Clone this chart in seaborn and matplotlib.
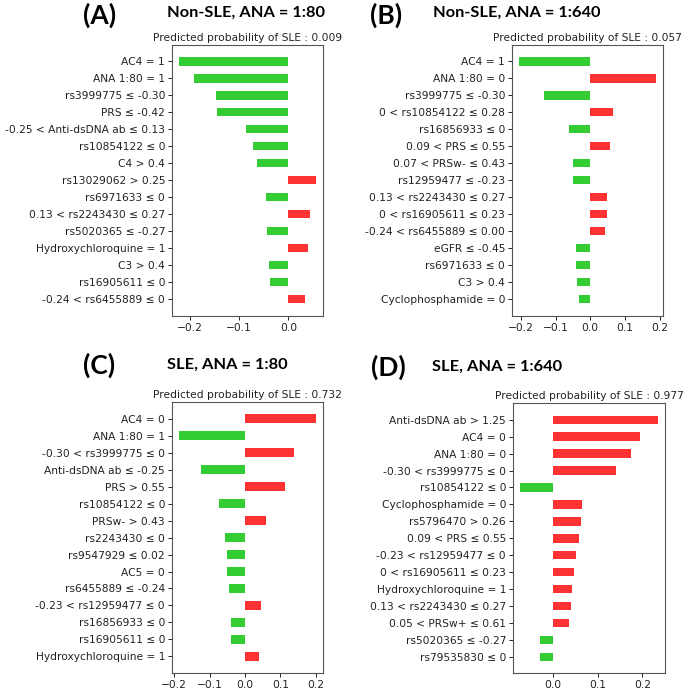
#Recreate the four LIME explanation panels (A-D)

# Load Packages=====================================================================================
import numpy as np
import pandas as pd
import seaborn as sns
import matplotlib.pyplot as plt


# Data==============================================================================================
a_labels = ['AC4 = 1', 'ANA 1:80 = 1', 'rs3999775 ≤ -0.30', 'PRS ≤ -0.42',
            '-0.25 < Anti-dsDNA ab ≤ 0.13', 'rs10854122 ≤ 0', 'C4 > 0.4', 'rs13029062 > 0.25',
            'rs6971633 ≤ 0', '0.13 < rs2243430 ≤ 0.27', 'rs5020365 ≤ -0.27',
            'Hydroxychloroquine = 1', 'C3 > 0.4', 'rs16905611 ≤ 0', '-0.24 < rs6455889 ≤ 0']
a_values = [-0.222, -0.191, -0.147, -0.144, -0.087, -0.071, -0.063, 0.056,
            -0.045, 0.044, -0.043, 0.040, -0.040, -0.038, 0.033]

b_labels = ['AC4 = 1', 'ANA 1:80 = 0', 'rs3999775 ≤ -0.30', '0 < rs10854122 ≤ 0.28',
            'rs16856933 ≤ 0', '0.09 < PRS ≤ 0.55', '0.07 < PRSw- ≤ 0.43', 'rs12959477 ≤ -0.23',
            '0.13 < rs2243430 ≤ 0.27', '0 < rs16905611 ≤ 0.23', '-0.24 < rs6455889 ≤ 0.00',
            'eGFR ≤ -0.45', 'rs6971633 ≤ 0', 'C3 > 0.4', 'Cyclophosphamide = 0']
b_values = [-0.206, 0.191, -0.132, 0.065, -0.062, 0.058, -0.050, -0.050,
            0.049, 0.047, 0.042, -0.040, -0.040, -0.037, -0.032]

c_labels = ['AC4 = 0', 'ANA 1:80 = 1', '-0.30 < rs3999775 ≤ 0', 'Anti-dsDNA ab ≤ -0.25',
            'PRS > 0.55', 'rs10854122 ≤ 0', 'PRSw- > 0.43', 'rs2243430 ≤ 0',
            'rs9547929 ≤ 0.02', 'AC5 = 0', 'rs6455889 ≤ -0.24', '-0.23 < rs12959477 ≤ 0',
            'rs16856933 ≤ 0', 'rs16905611 ≤ 0', 'Hydroxychloroquine = 1']
c_values = [0.201, -0.187, 0.139, -0.124, 0.114, -0.073, 0.060, -0.056,
            -0.051, -0.051, -0.046, 0.045, -0.040, -0.040, 0.039]

d_labels = ['Anti-dsDNA ab > 1.25', 'AC4 = 0', 'ANA 1:80 = 0', '-0.30 < rs3999775 ≤ 0',
            'rs10854122 ≤ 0', 'Cyclophosphamide = 0', 'rs5796470 > 0.26', '0.09 < PRS ≤ 0.55',
            '-0.23 < rs12959477 ≤ 0', '0 < rs16905611 ≤ 0.23', 'Hydroxychloroquine = 1',
            '0.13 < rs2243430 ≤ 0.27', '0.05 < PRSw+ ≤ 0.61', 'rs5020365 ≤ -0.27',
            'rs79535830 ≤ 0']
d_values = [0.235, 0.194, 0.174, 0.142, -0.073, 0.066, 0.063, 0.059,
            0.053, 0.048, 0.042, 0.041, 0.037, -0.028, -0.028]

panel_tags = ['(A)', '(B)', '(C)', '(D)']
panel_titles = ['Non-SLE, ANA = 1:80', 'Non-SLE, ANA = 1:640', 'SLE, ANA = 1:80', 'SLE, ANA = 1:640']
probs = ['0.009', '0.057', '0.732', '0.977']
xticks = [[-0.2, -0.1, 0.0], [-0.2, -0.1, 0.0, 0.1, 0.2],
          [-0.2, -0.1, 0.0, 0.1, 0.2], [0.0, 0.1, 0.2]]

GREEN = '#33cc33'
RED = '#ff3333'


# Plot helper=======================================================================================
def make_lime_bars(ax, labels, values, title, ticks):
  df = pd.DataFrame({'feature': labels, 'weight': values})
  df['sign'] = np.where(df['weight'] > 0, 'pos', 'neg')

  sns.barplot(data=df, x='weight', y='feature', hue='sign', orient='h',
              palette={'pos': RED, 'neg': GREEN}, dodge=False, width=0.5,
              saturation=1, legend=False, ax=ax, edgecolor='none')

  #matplotlib-like margins around the bars
  n = len(labels)
  ax.set_ylim(n - 1 + 0.975, -0.975)
  ax.margins(x=0.05)
  ax.set_xticks(ticks)
  ax.set_xlabel('')
  ax.set_ylabel('')
  ax.set_title('Predicted probability of SLE : ' + title, fontsize=7.7, pad=3, color='#222222')
  ax.tick_params(labelsize=7.7, colors='#222222', length=3, width=0.7, pad=2)
  for sp in ax.spines.values():
    sp.set_color('#555555')
    sp.set_linewidth(0.8)


# Figure============================================================================================
sns.set_style('ticks')
plt.rcParams['font.family'] = ['DejaVu Sans']

fig = plt.figure(figsize=(6.85, 6.89), dpi=100)

boxes = [[0.2511, 0.5418, 0.2204, 0.3933],
         [0.7474, 0.5418, 0.2209, 0.3933],
         [0.2511, 0.0232, 0.2204, 0.3933],
         [0.7489, 0.0228, 0.2219, 0.3919]]
data = [(a_labels, a_values), (b_labels, b_values), (c_labels, c_values), (d_labels, d_values)]

for i, (box, (labs, vals)) in enumerate(zip(boxes, data)):
  ax = fig.add_axes(box)
  make_lime_bars(ax, labs, vals, probs[i], xticks[i])

#panel tags and bold headings
tag_pos = [(0.121, 0.978), (0.540, 0.978), (0.121, 0.470), (0.541, 0.467)]
head_pos = [(0.244, 0.982), (0.632, 0.982), (0.244, 0.470), (0.631, 0.467)]
for i in range(4):
  fig.text(tag_pos[i][0], tag_pos[i][1], panel_tags[i], fontsize=19, fontweight='bold',
           family='Lato', ha='left', va='center', color='black')
  fig.text(head_pos[i][0], head_pos[i][1], panel_titles[i], fontsize=11.8, fontweight='bold',
           family='Lato', ha='left', va='center', color='black')

fig.savefig('out.png', dpi=100)
